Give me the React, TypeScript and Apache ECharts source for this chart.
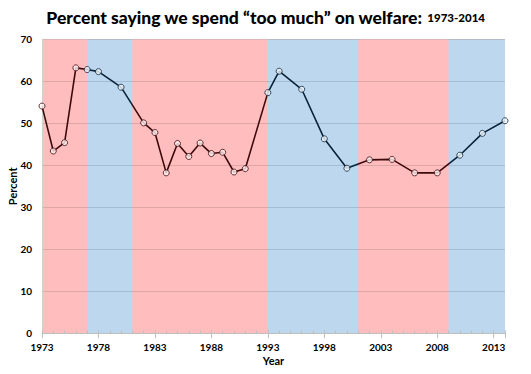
import React, { useEffect, useRef } from "react";
import * as echarts from "echarts";

const years = [1973, 1974, 1975, 1976, 1977, 1978, 1980, 1982, 1983, 1984, 1985, 1986, 1987, 1988, 1989, 1990, 1991, 1993, 1994, 1996, 1998, 2000, 2002, 2004, 2006, 2008, 2010, 2012, 2014];
const values = [54.1, 43.4, 45.4, 63.2, 62.8, 62.3, 58.6, 50.1, 47.8, 38.2, 45.2, 42.1, 45.3, 42.8, 43.1, 38.4, 39.2, 57.3, 62.4, 58.1, 46.3, 39.3, 41.3, 41.4, 38.2, 38.2, 42.4, 47.6, 50.6];

const termStarts = [1973, 1977, 1981, 1993, 2001, 2009];
const termEnds = [1977, 1981, 1993, 2001, 2009, 2014];
const termParty = ["R", "D", "R", "D", "R", "D"];

const yTicks = [0, 10, 20, 30, 40, 50, 60, 70];

const FONT = "Lato";
const BAND = { R: "#FFBDBE", D: "#BDD8EE" };
const LINE = { R: "#3D0A0C", D: "#0B2338" };
const DOT = { R: "#FFF0F0", D: "#F0F6FB" };

type P = "R" | "D";
const partyOf = (x: number): P => {
  for (let i = termStarts.length - 1; i >= 0; i--) if (x >= termStarts[i]) return termParty[i] as P;
  return termParty[0] as P;
};

export default function App() {
  const ref = useRef<HTMLDivElement>(null);
  useEffect(() => {
    if (!ref.current) return;
    const chart = echarts.init(ref.current, null, { renderer: "svg" });
    const bands: any[] = [
      [{ xAxis: termStarts[0], itemStyle: { color: BAND.R } }, { xAxis: termEnds[termEnds.length - 1] }],
    ];
    termStarts.forEach((s, i) => {
      if (termParty[i] === "D") bands.push([{ xAxis: s, itemStyle: { color: BAND.D } }, { xAxis: termEnds[i] }]);
    });
    const pieces = termStarts.map((s, i) => ({
      gte: s,
      lt: i === termStarts.length - 1 ? 3000 : termEnds[i],
      color: LINE[termParty[i] as P],
    }));
    chart.setOption({
      animation: false,
      backgroundColor: "#ffffff",
      title: {
        left: "center",
        top: 3,
        text: "{a|Percent saying we spend \u201Ctoo much\u201D on welfare:} {b|1973-2014}",
        textStyle: {
          rich: {
            a: { fontFamily: FONT, fontWeight: 900, fontSize: 17.5, color: "#000" },
            b: { fontFamily: FONT, fontWeight: 900, fontSize: 11.5, color: "#000" },
          },
        },
      },
      visualMap: {
        show: false,
        type: "piecewise",
        dimension: 0,
        seriesIndex: 1,
        pieces,
      },
      grid: { left: 42, right: 26, top: 39.3, bottom: 40.7, containLabel: false, outerBoundsMode: "none" },
      xAxis: [
        {
          type: "value",
          min: 1973,
          max: 2014,
          interval: 5,
          z: 2,
          name: "Year",
          nameLocation: "middle",
          nameGap: 22,
          nameMoveOverlap: false,
          nameTextStyle: { fontFamily: FONT, fontWeight: "bold", fontSize: 11, color: "#000" },
          axisLine: { show: true, lineStyle: { color: "#BFBFBF", width: 1 } },
          axisTick: { show: true, inside: false, length: 5, lineStyle: { color: "#BFBFBF" } },
          axisLabel: {
            margin: 9,
            fontFamily: FONT,
            fontWeight: "bold",
            fontSize: 10,
            color: "#000",
            formatter: (v: number) => ((v - 1973) % 5 === 0 ? String(v) : ""),
          },
          splitLine: { show: false },
        },
        {
          type: "value",
          min: 1973,
          max: 2014,
          interval: 1,
          z: 2,
          position: "bottom",
          axisLine: { show: false },
          axisTick: { show: true, inside: true, length: 3, lineStyle: { color: "#BFBFBF" } },
          axisLabel: { show: false },
          splitLine: { show: false },
        },
      ],
      yAxis: {
        type: "value",
        min: yTicks[0],
        max: yTicks[yTicks.length - 1],
        interval: 10,
        z: 2,
        name: "Percent",
        nameLocation: "middle",
        nameGap: 24,
        nameMoveOverlap: false,
        nameTextStyle: { fontFamily: FONT, fontWeight: "bold", fontSize: 11, color: "#000" },
        axisLine: { show: true, lineStyle: { color: "#D0D0D0" } },
        axisTick: { show: false },
        axisLabel: { margin: 10, fontFamily: FONT, fontWeight: "bold", fontSize: 10, color: "#000" },
        splitLine: { show: true, lineStyle: { color: "rgba(0,0,0,0.12)", width: 1 } },
      },
      series: [
        {
          type: "line",
          z: 1,
          data: [],
          markArea: { silent: true, data: bands },
        },
        {
          type: "line",
          z: 4,
          data: years.map((y, i) => [y, values[i]]),
          symbol: "none",
          lineStyle: { width: 1.6 },
        },
        {
          type: "scatter",
          z: 5,
          symbol: "circle",
          symbolSize: 6,
          data: years.map((y, i) => ({
            value: [y, values[i]],
            itemStyle: { color: DOT[partyOf(y)], borderColor: LINE[partyOf(y)], borderWidth: 1 },
          })),
        },
      ],
    });
    return () => chart.dispose();
  }, []);
  return <div ref={ref} style={{ position: "fixed", left: 0, top: 0, width: 531, height: 374 }} />;
}
